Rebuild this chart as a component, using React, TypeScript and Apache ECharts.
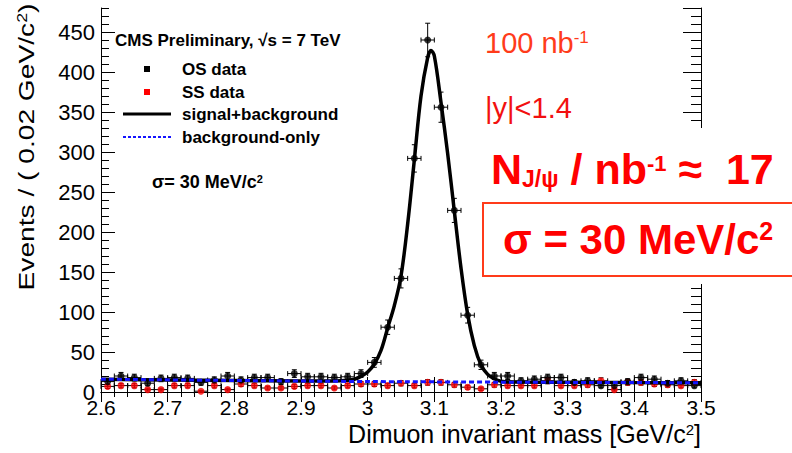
import React, { useEffect, useRef } from "react";
import * as echarts from "echarts";

// Bin centres (GeV/c^2), bin width 0.02
const MASS = [2.61, 2.63, 2.65, 2.67, 2.69, 2.71, 2.73, 2.75, 2.77, 2.79, 2.81, 2.83, 2.85, 2.87, 2.89, 2.91, 2.93, 2.95, 2.97, 2.99, 3.01, 3.03, 3.05, 3.07, 3.09, 3.11, 3.13, 3.15, 3.17, 3.19, 3.21, 3.23, 3.25, 3.27, 3.29, 3.31, 3.33, 3.35, 3.37, 3.39, 3.41, 3.43, 3.45, 3.47, 3.49];
// Opposite-sign dimuon counts
const OS_DATA = [13, 20, 18, 11, 17, 18, 17, 12, 15, 20, 15, 18, 18, 13, 23, 19, 19, 18, 19, 23, 37, 81, 142, 292, 440, 356, 227, 96, 34, 20, 20, 14, 16, 18, 18, 12, 14, 8, 8, 13, 18, 16, 11, 14, 8];
// Same-sign dimuon counts
const SS_DATA = [7, 8, 8, 3, 3, 8, 8, 1, 8, 3, 10, 8, 5, 5, 7, 8, 8, 5, 8, 10, 10, 8, 11, 8, 12, 12, 9, 6, 4, 9, 8, 8, 8, 14, 8, 8, 9, 14, 3, 12, 12, 10, 9, 8, 12];
// Signal + background fit curve
const FIT_X = [2.6, 2.7, 2.8, 2.9, 2.95, 2.97, 2.98, 2.99, 3.0, 3.01, 3.02, 3.03, 3.04, 3.05, 3.06, 3.07, 3.08, 3.09, 3.095, 3.1, 3.11, 3.12, 3.13, 3.14, 3.15, 3.16, 3.17, 3.18, 3.19, 3.2, 3.22, 3.3, 3.4, 3.5];
const FIT_Y = [16, 15.1, 14.3, 13.7, 13.8, 14.6, 16, 19.5, 25, 35, 52, 80, 108, 145, 210, 290, 370, 418, 427, 420, 362, 298, 226, 155, 97, 58, 34, 22, 16.5, 13.5, 12.5, 12.2, 11.8, 11.6];
// Background-only curve
const BKG_X = [2.6, 2.8, 3.0, 3.2, 3.35, 3.5];
const BKG_Y = [16, 14.4, 13.1, 12.3, 11.9, 11.6];

const X_TICKS = { min: 2.6, max: 3.5, interval: 0.1 };
const Y_TICKS = { min: 0, max: 480, major: 50, minor: 10 };
const HALF_BIN = 0.01;

const FONT = "'Liberation Sans', Arial, Helvetica, sans-serif";

function errorBars(params: any, api: any) {
  const x = api.value(0);
  const y = api.value(1);
  const e = Math.sqrt(y);
  const c = api.coord([x, y]);
  const l = api.coord([x - HALF_BIN, y]);
  const r = api.coord([x + HALF_BIN, y]);
  const t = api.coord([x, y + e]);
  const b = api.coord([x, Math.max(0, y - e)]);
  const st = { stroke: "#000", lineWidth: 1 };
  const cap = 2.5;
  return {
    type: "group",
    children: [
      { type: "line", shape: { x1: l[0], y1: c[1], x2: r[0], y2: c[1] }, style: st },
      { type: "line", shape: { x1: l[0], y1: c[1] - cap, x2: l[0], y2: c[1] + cap }, style: st },
      { type: "line", shape: { x1: r[0], y1: c[1] - cap, x2: r[0], y2: c[1] + cap }, style: st },
      { type: "line", shape: { x1: c[0], y1: t[1], x2: c[0], y2: b[1] }, style: st },
      { type: "line", shape: { x1: c[0] - cap, y1: t[1], x2: c[0] + cap, y2: t[1] }, style: st },
      { type: "line", shape: { x1: c[0] - cap, y1: b[1], x2: c[0] + cap, y2: b[1] }, style: st },
    ],
  };
}

export default function App() {
  const ref = useRef<HTMLDivElement>(null);

  useEffect(() => {
    if (!ref.current) return;
    const chart = echarts.init(ref.current, undefined, { renderer: "svg" });

    const axisLine = { show: true, lineStyle: { color: "#000", width: 1 } };
    const xBase = {
      type: "value",
      min: X_TICKS.min,
      max: X_TICKS.max,
      interval: X_TICKS.interval,
      splitLine: { show: false },
      axisLine,
    };
    const yBase = {
      type: "value",
      min: Y_TICKS.min,
      max: Y_TICKS.max,
      splitLine: { show: false },
    };

    const osPts = MASS.map((m, i) => [m, OS_DATA[i]]);
    const ssPts = MASS.map((m, i) => [m, SS_DATA[i]]);

    const option: any = {
      animation: false,
      grid: { left: 101, top: 8, right: 91, bottom: 61, containLabel: false, show: false },
      xAxis: [
        {
          ...xBase,
          position: "bottom",
          axisTick: { show: true, inside: true, length: 15, lineStyle: { color: "#000" } },
          minorTick: { show: true, splitNumber: 5, length: 8, lineStyle: { color: "#000" } },
          axisLabel: { show: true, color: "#000", fontSize: 21, fontFamily: FONT, margin: 5 },
        },
        {
          ...xBase,
          position: "top",
          axisTick: { show: true, inside: true, length: 10, lineStyle: { color: "#000" } },
          minorTick: { show: true, splitNumber: 5, length: 5, lineStyle: { color: "#000" } },
          axisLabel: { show: false },
        },
      ],
      yAxis: [
        {
          ...yBase,
          position: "left",
          interval: Y_TICKS.major,
          axisLine,
          axisTick: { show: true, inside: true, length: 14, lineStyle: { color: "#000" } },
          axisLabel: { show: true, color: "#000", fontSize: 22, fontFamily: FONT, margin: 6, showMaxLabel: false },
        },
        {
          ...yBase,
          position: "left",
          interval: Y_TICKS.minor,
          axisLine: { show: false },
          axisTick: { show: true, inside: true, length: 8, lineStyle: { color: "#000" } },
          axisLabel: { show: false },
        },
        {
          ...yBase,
          position: "right",
          interval: Y_TICKS.major,
          axisLine,
          axisTick: { show: true, inside: true, length: 18, lineStyle: { color: "#000" } },
          axisLabel: { show: false },
        },
        {
          ...yBase,
          position: "right",
          interval: Y_TICKS.minor,
          axisLine: { show: false },
          axisTick: { show: true, inside: true, length: 10, lineStyle: { color: "#000" } },
          axisLabel: { show: false },
        },
      ],
      series: [
        {
          type: "custom",
          name: "SS errors",
          renderItem: errorBars,
          data: ssPts,
          z: 2,
        },
        {
          type: "custom",
          name: "OS errors",
          renderItem: errorBars,
          data: osPts,
          z: 2,
        },
        {
          type: "scatter",
          name: "SS data",
          data: ssPts,
          symbol: "circle",
          symbolSize: 7,
          itemStyle: { color: "#ff0000" },
          z: 3,
        },
        {
          type: "scatter",
          name: "OS data",
          data: osPts,
          symbol: "circle",
          symbolSize: 7,
          itemStyle: { color: "#000" },
          z: 4,
        },
        {
          type: "line",
          name: "signal+background",
          data: FIT_X.map((x, i) => [x, FIT_Y[i]]),
          showSymbol: false,
          smooth: 0.35,
          lineStyle: { color: "#000", width: 3.5 },
          z: 5,
        },
        {
          type: "line",
          name: "background-only",
          data: BKG_X.map((x, i) => [x, BKG_Y[i]]),
          showSymbol: false,
          smooth: 0.3,
          lineStyle: { color: "#1414ff", width: 3, type: [5, 3] },
          z: 6,
        },
      ],
      graphic: [
        // white panel behind the annotations (hides the right frame there)
        { type: "rect", z: 100, shape: { x: 480, y: 128, width: 320, height: 156 }, style: { fill: "#fff" } },
        // y axis title
        {
          type: "text",
          z: 101,
          x: 26,
          y: 147,
          rotation: Math.PI / 2,
          scaleX: 1.28,
          style: {
            text: "{a|Events / ( 0.02 GeV/c}{s|2}{a|)}",
            align: "center",
            verticalAlign: "middle",
            rich: {
              a: { fontSize: 22, fontFamily: FONT, fill: "#000" },
              s: { fontSize: 14, fontFamily: FONT, fill: "#000", verticalAlign: "top" },
            },
          },
        },
        // x axis title
        {
          type: "text",
          z: 101,
          x: 701,
          y: 434,
          style: {
            text: "{a|Dimuon invariant mass [GeV/c}{s|2}{a|]}",
            align: "right",
            verticalAlign: "middle",
            rich: {
              a: { fontSize: 25, fontFamily: FONT, fill: "#000" },
              s: { fontSize: 15, fontFamily: FONT, fill: "#000", verticalAlign: "top" },
            },
          },
        },
        // legend block
        {
          type: "text", z: 101, x: 115, y: 40,
          style: { text: "CMS Preliminary, √s = 7 TeV", fontSize: 17, fontWeight: "bold", fontFamily: FONT, fill: "#000", verticalAlign: "middle" },
        },
        { type: "rect", z: 101, shape: { x: 144, y: 66, width: 6, height: 6 }, style: { fill: "#000" } },
        {
          type: "text", z: 101, x: 182, y: 69,
          style: { text: "OS data", fontSize: 17, fontWeight: "bold", fontFamily: FONT, fill: "#000", verticalAlign: "middle" },
        },
        { type: "rect", z: 101, shape: { x: 144, y: 89, width: 6, height: 6 }, style: { fill: "#ff0000" } },
        {
          type: "text", z: 101, x: 182, y: 92,
          style: { text: "SS data", fontSize: 17, fontWeight: "bold", fontFamily: FONT, fill: "#000", verticalAlign: "middle" },
        },
        { type: "line", z: 101, shape: { x1: 123, y1: 114, x2: 171, y2: 114 }, style: { stroke: "#000", lineWidth: 3 } },
        {
          type: "text", z: 101, x: 182, y: 114,
          style: { text: "signal+background", fontSize: 17, fontWeight: "bold", fontFamily: FONT, fill: "#000", verticalAlign: "middle" },
        },
        { type: "line", z: 101, shape: { x1: 123, y1: 137, x2: 171, y2: 137 }, style: { stroke: "#1414ff", lineWidth: 2, lineDash: [3, 2] } },
        {
          type: "text", z: 101, x: 182, y: 137,
          style: { text: "background-only", fontSize: 17, fontWeight: "bold", fontFamily: FONT, fill: "#000", verticalAlign: "middle" },
        },
        {
          type: "text", z: 101, x: 152, y: 182,
          style: {
            text: "{a|σ= 30 MeV/c}{s|2}",
            verticalAlign: "middle",
            rich: {
              a: { fontSize: 18, fontWeight: "bold", fontFamily: FONT, fill: "#000" },
              s: { fontSize: 11, fontWeight: "bold", fontFamily: FONT, fill: "#000", verticalAlign: "top" },
            },
          },
        },
        // right-hand annotations
        {
          type: "text", z: 101, x: 485, y: 43,
          style: {
            text: "{a|100 nb}{s|-1}",
            verticalAlign: "middle",
            rich: {
              a: { fontSize: 29, fontFamily: FONT, fill: "#ff3b1a" },
              s: { fontSize: 17, fontFamily: FONT, fill: "#ff3b1a", verticalAlign: "top" },
            },
          },
        },
        {
          type: "text", z: 101, x: 485, y: 108,
          style: { text: "|y|<1.4", fontSize: 29, fontFamily: FONT, fill: "#f21010", verticalAlign: "middle" },
        },
        {
          type: "text", z: 102, x: 491, y: 169,
          style: {
            text: "{n|N}{b|J/ψ}{n| / nb}{t|-1}{n| ≈  17}",
            verticalAlign: "middle",
            rich: {
              n: { fontSize: 43, fontWeight: "bold", fontFamily: FONT, fill: "#ff0000" },
              b: { fontSize: 23, fontWeight: "bold", fontFamily: FONT, fill: "#ff0000", verticalAlign: "bottom" },
              t: { fontSize: 22, fontWeight: "bold", fontFamily: FONT, fill: "#ff0000", verticalAlign: "top", padding: [5, 0, 0, 0] },
            },
          },
        },
        {
          type: "rect", z: 101,
          shape: { x: 483, y: 203, width: 330, height: 73 },
          style: { fill: "#fff", stroke: "#ff3b1a", lineWidth: 2 },
        },
        {
          type: "text", z: 102, x: 503, y: 239,
          style: {
            text: "{n|σ = 30 MeV/c}{t|2}",
            verticalAlign: "middle",
            rich: {
              n: { fontSize: 42, fontWeight: "bold", fontFamily: FONT, fill: "#ff0000" },
              t: { fontSize: 25, fontWeight: "bold", fontFamily: FONT, fill: "#ff0000", verticalAlign: "top" },
            },
          },
        },
      ],
    };

    chart.setOption(option);
    return () => chart.dispose();
  }, []);

  return (
    <div
      ref={ref}
      style={{ position: "fixed", left: 0, top: 0, width: 792, height: 453, background: "#fff" }}
    />
  );
}
